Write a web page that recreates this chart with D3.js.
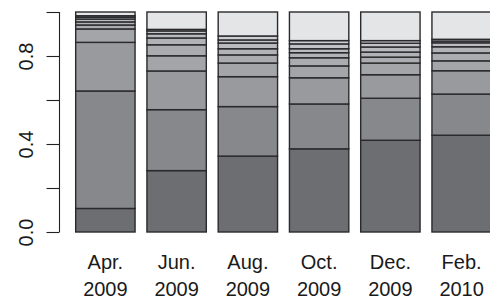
<!DOCTYPE html>
<html><head><meta charset="utf-8">
<script src="https://cdn.jsdelivr.net/npm/d3@7"></script>
<style>html,body{margin:0;padding:0;background:#fff;}svg{display:block;}</style>
</head><body>
<svg id="chart" width="490" height="300"></svg>
<script>
const months = ["Apr.", "Jun.", "Aug.", "Oct.", "Dec.", "Feb."];
const years = ["2009", "2009", "2009", "2009", "2009", "2010"];
// proportions of each of 10 groups (bottom to top) per month
const group1  = [0.107, 0.279, 0.345, 0.378, 0.417, 0.440];
const group2  = [0.534, 0.277, 0.225, 0.204, 0.191, 0.187];
const group3  = [0.221, 0.176, 0.136, 0.119, 0.107, 0.106];
const group4  = [0.061, 0.069, 0.062, 0.054, 0.053, 0.045];
const group5  = [0.018, 0.050, 0.037, 0.037, 0.027, 0.036];
const group6  = [0.014, 0.031, 0.028, 0.023, 0.023, 0.028];
const group7  = [0.013, 0.019, 0.026, 0.018, 0.023, 0.018];
const group8  = [0.008, 0.013, 0.014, 0.022, 0.017, 0.008];
const group9  = [0.007, 0.007, 0.018, 0.015, 0.012, 0.008];
const group10 = [0.017, 0.079, 0.109, 0.130, 0.130, 0.124];
const yTicks = [0, 0.2, 0.4, 0.6, 0.8, 1.0];
const yTickLabels = ["0.0", "", "0.4", "", "0.8", ""];

const groups = [group1, group2, group3, group4, group5, group6, group7, group8, group9, group10];
const colors = ["#6d6e72", "#87888c", "#999a9e", "#a4a5a9", "#abacb0", "#b2b3b7", "#babbbf", "#c3c4c7", "#cdced1", "#e4e5e7"];

const svg = d3.select("#chart");
const x = d3.scaleBand().domain(months.map((m, i) => i))
  .range([69.75, 497.25]).paddingInner(1/6).paddingOuter(1/12);
const y = d3.scaleLinear().domain([0, 1]).range([232, 12]);

const rows = months.map((m, i) => {
  const r = {idx: i};
  groups.forEach((g, k) => r["g" + k] = g[i]);
  return r;
});
const stack = d3.stack().keys(groups.map((g, k) => "g" + k));
const series = stack(rows);

svg.append("g").selectAll("g").data(series).join("g")
  .attr("fill", (d, k) => colors[k])
  .selectAll("rect").data(d => d).join("rect")
  .attr("x", d => x(d.data.idx))
  .attr("width", x.bandwidth())
  .attr("y", d => y(d[1]))
  .attr("height", d => y(d[0]) - y(d[1]))
  .attr("stroke", "#2a2a2c")
  .attr("stroke-width", 1.4);

// y axis
const yAxis = d3.axisLeft(y).tickValues(yTicks).tickSize(13).tickFormat((d, i) => yTickLabels[i]);
const ga = svg.append("g").attr("transform", "translate(59.5,0)").call(yAxis);
ga.select(".domain").attr("d", `M0,${y(0)}V${y(1)}`).attr("stroke", "#222").attr("stroke-width", 1.1);
ga.selectAll(".tick line").attr("stroke", "#222").attr("stroke-width", 1.1);
ga.selectAll(".tick text")
  .attr("font-family", "Liberation Sans, Arial, sans-serif")
  .attr("font-size", 20).attr("fill", "#1a1a1a")
  .attr("text-anchor", "middle")
  .attr("dy", null).attr("x", null)
  .attr("transform", "translate(-26.5,0) rotate(-90)");

// x labels
const xl = svg.append("g").selectAll("text").data(months).join("text")
  .attr("font-family", "Liberation Sans, Arial, sans-serif")
  .attr("font-size", 20).attr("fill", "#1a1a1a")
  .attr("text-anchor", "middle");
xl.append("tspan").attr("x", (d, i) => x(i) + x.bandwidth() / 2).attr("y", 269).text(d => d);
xl.append("tspan").attr("x", (d, i) => x(i) + x.bandwidth() / 2).attr("y", 295.5).text((d, i) => years[i]);
</script>
</body></html>
